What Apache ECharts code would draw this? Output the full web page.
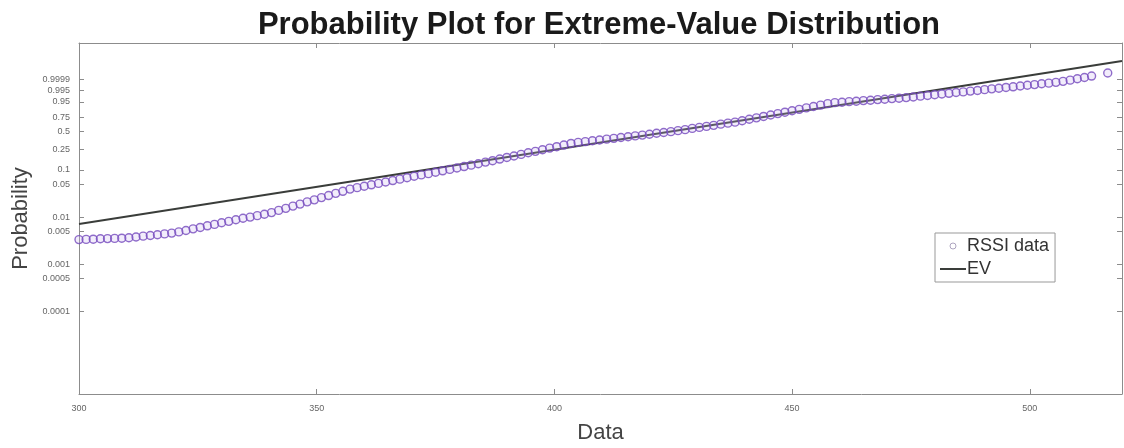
<!DOCTYPE html>
<html>
<head>
<meta charset="utf-8">
<script src="https://cdn.jsdelivr.net/npm/echarts@6/dist/echarts.min.js"></script>
<style>
  html, body { margin: 0; padding: 0; background: #fff; }
  #chart { width: 1124px; height: 448px; }
</style>
</head>
<body>
<div id="chart"></div>
<script>
// sorted RSSI values
var rssiX = [
  300, 301.5, 303, 304.5, 306, 307.5, 309, 310.5, 312, 313.5, 315, 316.5, 318, 319.5,
  321, 322.5, 324, 325.5, 327, 328.5, 330, 331.5, 333, 334.5, 336, 337.5, 339, 340.5,
  342, 343.5, 345, 346.5, 348, 349.5, 351, 352.5, 354, 355.5, 357, 358.5, 360, 361.5,
  363, 364.5, 366, 367.5, 369, 370.5, 372, 373.5, 375, 376.5, 378, 379.5, 381, 382.5,
  384, 385.5, 387, 388.5, 390, 391.5, 393, 394.5, 396, 397.5, 399, 400.5, 402, 403.5,
  405, 406.5, 408, 409.5, 411, 412.5, 414, 415.5, 417, 418.5, 420, 421.5, 423, 424.5,
  426, 427.5, 429, 430.5, 432, 433.5, 435, 436.5, 438, 439.5, 441, 442.5, 444, 445.5,
  447, 448.5, 450, 451.5, 453, 454.5, 456, 457.5, 459, 460.5, 462, 463.5, 465, 466.5,
  468, 469.5, 471, 472.5, 474, 475.5, 477, 478.5, 480, 481.5, 483, 484.5, 486, 487.5,
  489, 490.5, 492, 493.5, 495, 496.5, 498, 499.5, 501, 502.5, 504, 505.5, 507, 508.5,
  510, 511.5, 513, 516.4
];
// plotting position on the extreme-value scale, log(-log(1-p))
var rssiScore = [
  -5.69, -5.68, -5.67, -5.65, -5.64, -5.63, -5.62, -5.60, -5.56, -5.52, -5.49, -5.45, -5.41, -5.37,
  -5.31, -5.24, -5.16, -5.09, -5.01, -4.94, -4.86, -4.79, -4.71, -4.64, -4.58, -4.51, -4.44, -4.36,
  -4.25, -4.15, -4.04, -3.94, -3.83, -3.73, -3.62, -3.52, -3.41, -3.31, -3.20, -3.13, -3.06, -2.99,
  -2.92, -2.85, -2.78, -2.71, -2.64, -2.57, -2.50, -2.44, -2.37, -2.30, -2.23, -2.16, -2.09, -2.02,
  -1.95, -1.87, -1.80, -1.72, -1.64, -1.57, -1.49, -1.41, -1.34, -1.26, -1.18, -1.11, -1.03, -0.95,
  -0.90, -0.86, -0.82, -0.78, -0.74, -0.70, -0.66, -0.62, -0.58, -0.54, -0.50, -0.45, -0.41, -0.37,
  -0.32, -0.27, -0.21, -0.16, -0.11, -0.06, 0.00, 0.05, 0.10, 0.17, 0.24, 0.31, 0.38, 0.45,
  0.52, 0.59, 0.66, 0.73, 0.80, 0.87, 0.94, 1.01, 1.06, 1.08, 1.11, 1.13, 1.16, 1.18,
  1.21, 1.23, 1.26, 1.28, 1.31, 1.34, 1.38, 1.41, 1.45, 1.49, 1.52, 1.56, 1.59, 1.63,
  1.66, 1.70, 1.74, 1.77, 1.81, 1.84, 1.88, 1.92, 1.95, 1.99, 2.02, 2.06, 2.11, 2.17,
  2.24, 2.30, 2.37, 2.52
];
// fitted EV line end points
var fitX = [300, 519.4];
var fitScore = [-4.92, 3.11];

var probTicks = [0.9999, 0.995, 0.95, 0.75, 0.5, 0.25, 0.1, 0.05, 0.01, 0.005, 0.001, 0.0005, 0.0001];
var probLabels = ['0.9999', '0.995', '0.95', '0.75', '0.5', '0.25', '0.1', '0.05', '0.01', '0.005', '0.001', '0.0005', '0.0001'];

var X_MIN = 300, X_MAX = 519.4;
var Y_MIN = -13.3, Y_MAX = 4.0;

var evz = (p) => Math.log(-Math.log(1 - p));
var tickScores = probTicks.map(evz);

var probLabel = function (v) {
  for (var i = 0; i < tickScores.length; i++) {
    if (Math.abs(tickScores[i] - v) < 1e-6) return probLabels[i];
  }
  return '';
};

var axisGray = '#8c8c8c';
var font = 'Liberation Sans, Arial, sans-serif';
var lineColor = '#3a3d3a';

var chart = echarts.init(document.getElementById('chart'));
chart.setOption({
  backgroundColor: '#fff',
  animation: false,
  title: {
    text: 'Probability Plot for Extreme-Value Distribution',
    left: 594,
    textAlign: 'center',
    top: 5,
    textStyle: { fontFamily: font, fontSize: 31, fontWeight: 'bold', color: '#1a1a1a' },
  },
  grid: { left: 79, right: 2, top: 43, bottom: 54, outerBoundsMode: 'none' },
  legend: {
    orient: 'vertical',
    left: 935,
    top: 233,
    padding: [4, 6, 4, 4],
    itemGap: 5,
    itemWidth: 26,
    itemHeight: 6,
    borderColor: '#999',
    borderWidth: 1,
    backgroundColor: '#fff',
    textStyle: { fontFamily: font, fontSize: 18, color: '#333', padding: [0, 0, 0, -4] },
    data: [
      { name: 'RSSI data', icon: 'circle', itemStyle: { color: '#fff', borderColor: '#9a8fb0', borderWidth: 1 } },
      { name: 'EV', itemStyle: { opacity: 0 } },
    ],
  },
  xAxis: [
    {
      type: 'value',
      min: X_MIN,
      max: X_MAX,
      interval: 50,
      name: 'Data',
      nameLocation: 'middle',
      nameGap: 28,
      nameTextStyle: { fontFamily: font, fontSize: 22, color: '#444' },
      axisLine: { onZero: false, lineStyle: { color: axisGray } },
      axisTick: { inside: true, length: 5, lineStyle: { color: axisGray } },
      axisLabel: { fontFamily: font, fontSize: 9, color: '#666', margin: 10, showMaxLabel: false },
      splitLine: { show: false },
    },
    {
      type: 'value',
      position: 'top',
      min: X_MIN,
      max: X_MAX,
      interval: 50,
      axisLine: { onZero: false, lineStyle: { color: axisGray } },
      axisTick: { inside: true, length: 5, lineStyle: { color: axisGray } },
      axisLabel: { show: false },
      splitLine: { show: false },
    },
  ],
  yAxis: [
    {
      type: 'value',
      min: Y_MIN,
      max: Y_MAX,
      name: 'Probability',
      nameLocation: 'middle',
      nameGap: 45,
      nameRotate: 90,
      nameTextStyle: { fontFamily: font, fontSize: 22, color: '#444' },
      axisLine: { show: true, onZero: false, lineStyle: { color: axisGray } },
      axisTick: { show: true, inside: true, length: 5, customValues: tickScores, lineStyle: { color: axisGray } },
      axisLabel: { fontFamily: font, fontSize: 9, color: '#666', margin: 9, customValues: tickScores, formatter: probLabel },
      splitLine: { show: false },
    },
    {
      type: 'value',
      position: 'right',
      min: Y_MIN,
      max: Y_MAX,
      axisLine: { show: true, onZero: false, lineStyle: { color: axisGray } },
      axisTick: { show: true, inside: true, length: 5, customValues: tickScores, lineStyle: { color: axisGray } },
      axisLabel: { show: false },
      splitLine: { show: false },
    },
  ],
  series: [
    {
      name: 'RSSI data',
      type: 'scatter',
      symbol: 'circle',
      symbolSize: 8,
      itemStyle: { color: 'rgba(200,180,240,0.3)', borderColor: '#7448bd', borderWidth: 1.4 },
      data: rssiX.map((x, i) => [x, rssiScore[i]]),
      z: 3,
    },
    {
      name: 'EV',
      type: 'line',
      symbol: 'none',
      color: lineColor,
      itemStyle: { color: lineColor },
      lineStyle: { color: lineColor, width: 2 },
      data: fitX.map((x, i) => [x, fitScore[i]]),
      z: 2,
    },
  ],
});
</script>
</body>
</html>
